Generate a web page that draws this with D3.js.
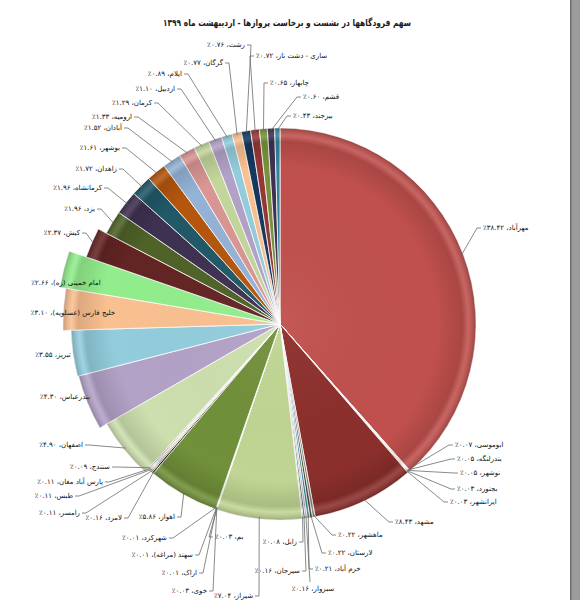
<!DOCTYPE html>
<html><head><meta charset="utf-8">
<script src="https://cdn.jsdelivr.net/npm/d3@7"></script>
<style>
html,body{margin:0;padding:0;background:#fff;}
svg{display:block;font-family:"DejaVu Sans",sans-serif;}
</style></head>
<body>
<svg id="chart" width="580" height="600"></svg>
<script>
const title = "سهم فرودگاهها در نشست و برخاست پروازها - اردیبهشت ماه ۱۳۹۹";
const airports = ["مهرآباد","ابوموسی","بندرلنگه","نوشهر","بجنورد","ایرانشهر","مشهد","ماهشهر","لارستان","خرم آباد","سبزوار","سیرجان","زابل","شیراز","بم","خوی","اراک","سهند (مراغه)","شهرکرد","اهواز","لامرد","رامسر","طبس","پارس آباد مغان","سنندج","اصفهان","بندرعباس","تبریز","خلیج فارس (عسلویه)","امام خمینی (ره)","کیش","یزد","کرمانشاه","زاهدان","بوشهر","آبادان","ارومیه","کرمان","اردبیل","ایلام","گرگان","رشت","ساری - دشت ناز","چابهار","قشم","بیرجند"];
const shares = [38.42,0.07,0.05,0.05,0.03,0.03,8.43,0.22,0.22,0.21,0.16,0.16,0.08,7.04,0.03,0.03,0.01,0.01,0.01,5.86,0.16,0.11,0.11,0.11,0.09,4.90,4.30,3.55,3.10,2.66,2.37,1.96,1.96,1.72,1.61,1.52,1.33,1.29,1.10,0.89,0.77,0.76,0.72,0.65,0.60,0.43];
const colors = ["#C0504D","#F2DCDB","#E6B9B8","#DDD9C3","#C4BD97","#F2C9A8","#8C2F2C","#7F7F7F","#4A452A","#31859C","#A6A6A6","#595959","#1F497D","#C0D593","#C4BD97","#7F7F7F","#DDD9C3","#948A54","#F2F2F2","#71903A","#262626","#948A54","#C4BD97","#DDD9C3","#595959","#CDDFAE","#B3A2C7","#93CDDD","#FAC090","#92EE8C","#632523","#4F6228","#3F3151","#215968","#B5560D","#95B3D7","#D99694","#C3D69B","#B3A2C7","#93CDDD","#FAC090","#17375E","#953735","#77933C","#403152","#31859C"];
// label layout: [x, y, mode]  L = text ends at x, R = text starts at x, B = centered below leader, N = no leader (centered)
const labelLayout = [[483,228,"R"],[455,445,"R"],[457,459,"R"],[460,473,"R"],[457,489,"R"],[450,502,"R"],[395,522,"R"],[338,535,"R"],[328,553,"R"],[315,569,"R"],[313,589,"B"],[300,571,"L"],[297,542,"L"],[253,596,"L"],[215,537,"R"],[207,591,"L"],[197,573,"L"],[193,555,"L"],[167,538,"L"],[175,517,"L"],[122,518,"L"],[80,513,"L"],[73,496,"L"],[103,482,"L"],[110,467,"L"],[83,445,"L"],[65,397,"N"],[53,355,"N"],[73,313,"N"],[66,283,"N"],[80,233,"L"],[95,209,"L"],[102,188,"L"],[117,169,"L"],[120,148,"L"],[122,128,"L"],[132,117,"L"],[152,103,"L"],[175,89,"L"],[182,74,"L"],[223,63,"L"],[245,45,"L"],[256,56,"R"],[270,83,"R"],[303,97,"R"],[293,116,"R"]];
// extra outer radius of the bulging left-hand slices (layout only)
const radiusBoost = {25:4, 26:12, 27:13, 28:21, 29:27, 30:9};

const faDigits = s => s.replace(/\d/g, d => "۰۱۲۳۴۵۶۷۸۹"[+d]);
const labelText = i => airports[i] + "، " + faDigits(shares[i].toFixed(2)) + "٪";

const svg = d3.select("#chart");
const cx = 280, cy = 324, R = 196;

svg.append("rect").attr("x",571).attr("y",0).attr("width",9).attr("height",600).attr("fill","#9c9c9c");
svg.append("rect").attr("x",570).attr("y",0).attr("width",1.5).attr("height",600).attr("fill","#6e6e6e");

svg.append("text").attr("x",287).attr("y",26).attr("text-anchor","middle")
  .attr("direction","rtl").attr("font-size",9.5).attr("font-weight","bold").attr("fill","#1a1a1a")
  .attr("textLength",248).attr("lengthAdjust","spacingAndGlyphs").text(title);

const defs = svg.append("defs");
const rR = i => R + (radiusBoost[i] || 0);
const pie = d3.pie().sort(null).value(d => d);
const arcs = pie(shares);

arcs.forEach((d,i) => {
  const rg = defs.append("radialGradient").attr("id","shade"+i).attr("gradientUnits","userSpaceOnUse")
    .attr("cx",cx).attr("cy",cy).attr("r",rR(i));
  rg.append("stop").attr("offset","0%").attr("stop-color","#fff").attr("stop-opacity",0.05);
  rg.append("stop").attr("offset","80%").attr("stop-color","#000").attr("stop-opacity",0);
  rg.append("stop").attr("offset","93%").attr("stop-color","#000").attr("stop-opacity",0.12);
  rg.append("stop").attr("offset","96%").attr("stop-color","#fff").attr("stop-opacity",0.12);
  rg.append("stop").attr("offset","100%").attr("stop-color","#000").attr("stop-opacity",0.2);
});

const g = svg.append("g").attr("transform", `translate(${cx},${cy})`);
const sliceArc = (d,i) => d3.arc().innerRadius(0).outerRadius(rR(i))(d);
g.selectAll("path.slice").data(arcs).join("path").attr("class","slice")
  .attr("d", sliceArc).attr("fill", (d,i) => colors[i]).attr("stroke","#fff").attr("stroke-width",0.8);
g.selectAll("path.shade").data(arcs).join("path").attr("class","shade")
  .attr("d", sliceArc).attr("fill", (d,i) => `url(#shade${i})`)
  .attr("transform",`translate(${-cx},${-cy})`);
// gradients are in page space: re-translate the shading paths
g.selectAll("path.shade").attr("transform",null).each(function(){
  d3.select(this).attr("fill", d3.select(this).attr("fill"));
});
defs.selectAll("radialGradient").attr("cx",0).attr("cy",0);

const lab = svg.append("g");
arcs.forEach((d,i) => {
  const [x, y, mode] = labelLayout[i];
  const rr = rR(i) - 2;
  const c = d3.arc().innerRadius(rr).outerRadius(rr).centroid(d);
  const px = cx + c[0], py = cy + c[1];
  let pts = null, anchor;
  if (mode === "L") { pts = [[x+2,y],[x+6,y],[px,py]]; anchor = "start"; }
  else if (mode === "R") { pts = [[x-2,y],[x-6,y],[px,py]]; anchor = "end"; }
  else if (mode === "B") { pts = [[x-3,y-7],[px,py]]; anchor = "middle"; }
  else { anchor = "middle"; }
  if (pts) lab.append("path").attr("d", d3.line()(pts)).attr("fill","none").attr("stroke","#6b6b6b").attr("stroke-width",0.8);
  lab.append("text").attr("x",x).attr("y",y).attr("dy","0.35em").attr("direction","rtl")
    .attr("text-anchor",anchor).attr("font-size",7).attr("fill","#111").text(labelText(i));
});
</script>
</body></html>
